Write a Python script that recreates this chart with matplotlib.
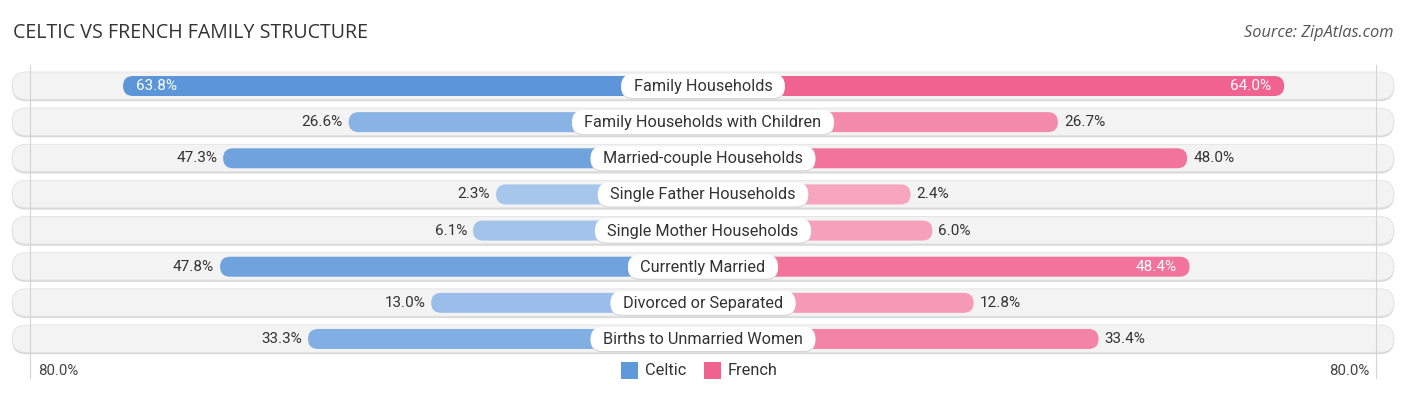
import matplotlib
matplotlib.use("Agg")
import matplotlib.pyplot as plt
from matplotlib.patches import FancyBboxPatch, Rectangle
import numpy as np

title = "CELTIC VS FRENCH FAMILY STRUCTURE"
source = "Source: ZipAtlas.com"
categories = ["Family Households", "Family Households with Children",
              "Married-couple Households", "Single Father Households",
              "Single Mother Households", "Currently Married",
              "Divorced or Separated", "Births to Unmarried Women"]
celtic = [63.8, 26.6, 47.3, 2.3, 6.1, 47.8, 13.0, 33.3]
french = [64.0, 26.7, 48.0, 2.4, 6.0, 48.4, 12.8, 33.4]
series_names = ["Celtic", "French"]
axis_label = "80.0%"

W, H = 1406, 395
PXU = 6.065          # pixels per percent unit
ROWPX = 36.14        # pixels per row
ROW0 = 86            # pixel y of first row center
OFFSET = 193 / PXU   # bar base length in units

fig = plt.figure(figsize=(W / 100, H / 100), dpi=100)
ax = fig.add_axes([0, 0, 1, 1])
ax.set_xlim(-(W / 2) / PXU, (W / 2) / PXU)
ax.set_ylim((H - ROW0) / ROWPX, -ROW0 / ROWPX)
ax.axis("off")

ma = PXU / ROWPX  # mutation aspect for circular caps

c_dark = np.array([92, 150, 217]) / 255
c_light = np.array([170, 200, 237]) / 255
f_dark = np.array([240, 98, 143]) / 255
f_light = np.array([247, 168, 193]) / 255


def mix(light, dark, v):
    t = min(max(v / 64.0, 0), 1)
    return tuple(light + (dark - light) * t)


def pill(x0, y0, w, h, r_px, **kw):
    r = r_px / PXU
    p = FancyBboxPatch((x0, y0), w, h,
                       boxstyle=f"round,pad=0,rounding_size={r}",
                       mutation_aspect=ma, **kw)
    ax.add_patch(p)
    return p


n = len(categories)
ypos = np.arange(n)

# background tracks
track_h = 28 / ROWPX
tx0, tx1 = (12 - W / 2) / PXU, (1394 - W / 2) / PXU
for i in ypos:
    pill(tx0, i - track_h / 2 + 1.2 / ROWPX, tx1 - tx0, track_h, 14,
         facecolor="#d8d8d8", edgecolor="none", zorder=1)
    pill(tx0, i - track_h / 2, tx1 - tx0, track_h - 0.6 / ROWPX, 14,
         facecolor="#f3f3f3", edgecolor="#e2e2e2", linewidth=0.6, zorder=1.5)

# faint vertical guide lines
for s in (-1, 1):
    xg = s * (W / 2 - 30) / PXU
    ax.plot([xg, xg], [(65 - ROW0) / ROWPX, (378 - ROW0) / ROWPX],
            color="#d4d4d4", lw=0.8, zorder=1.8)

bar_h = 20 / ROWPX
cb = ax.barh(ypos, [-(OFFSET + v) for v in celtic], height=bar_h, left=0)
fb = ax.barh(ypos, [OFFSET + v for v in french], height=bar_h, left=0)

VFS = 11
for bars, vals, light, dark, side in ((cb, celtic, c_light, c_dark, -1),
                                      (fb, french, f_light, f_dark, 1)):
    for rect, v in zip(bars, vals):
        x, y = rect.get_x(), rect.get_y()
        w, h = rect.get_width(), rect.get_height()
        if w < 0:
            x, w = x + w, -w
        rect.set_visible(False)
        pill(x, y, w, h, 10, facecolor=mix(light, dark, v),
             edgecolor="none", zorder=2)
        end = side * (OFFSET + v)
        yc = y + h / 2
        if v > 48.1:
            ax.text(end - side * 13 / PXU, yc, f"{v:.1f}%",
                    ha="left" if side < 0 else "right", va="center",
                    fontsize=VFS, color="white", family="Roboto", zorder=4)
        else:
            ax.text(end + side * 6 / PXU, yc, f"{v:.1f}%",
                    ha="right" if side < 0 else "left", va="center",
                    fontsize=VFS, color="#333333", family="Roboto", zorder=4)

# category labels in white pills
fig.canvas.draw()
renderer = fig.canvas.get_renderer()
lab_h = 24 / ROWPX
for i, cat in zip(ypos, categories):
    t = ax.text(0, i + 0.5 / ROWPX, cat, ha="center", va="center",
                fontsize=11.7, color="#333333", family="Roboto", zorder=6)
    bb = t.get_window_extent(renderer=renderer)
    wpx = bb.width + 25
    wu = wpx / PXU
    pill(-wu / 2, i - lab_h / 2 + 1.2 / ROWPX, wu, lab_h, 12,
         facecolor="#d6d6d6", edgecolor="none", zorder=4.5)
    pill(-wu / 2, i - lab_h / 2, wu, lab_h, 12,
         facecolor="white", edgecolor="none", zorder=5)

fig.text(13 / W, 1 - 33 / H, title, ha="left", va="center",
         fontsize=14.1, color="#333333", family="Open Sans")
fig.text(1394 / W, 1 - 33 / H, source, ha="right", va="center",
         fontsize=11.8, color="#555555", family="Open Sans", style="italic")

fig.text(38 / W, 1 - 371 / H, axis_label, ha="left", va="center",
         fontsize=10.8, color="#444444", family="Roboto")
fig.text(1369 / W, 1 - 371 / H, axis_label, ha="right", va="center",
         fontsize=10.8, color="#444444", family="Roboto")

leg_cols = [tuple(c_dark * 0.95 + c_light * 0.05), tuple(f_dark)]
for xs, name, col in ((621, series_names[0], leg_cols[0]),
                      (704, series_names[1], leg_cols[1])):
    fig.patches.append(Rectangle((xs / W, 1 - 379 / H), 17 / W, 17 / H,
                                 transform=fig.transFigure, facecolor=col,
                                 edgecolor="none"))
    fig.text((xs + 24) / W, 1 - 370.5 / H, name, ha="left", va="center",
             fontsize=11.8, color="#333333", family="Roboto")

fig.savefig("out.png", dpi=100)
